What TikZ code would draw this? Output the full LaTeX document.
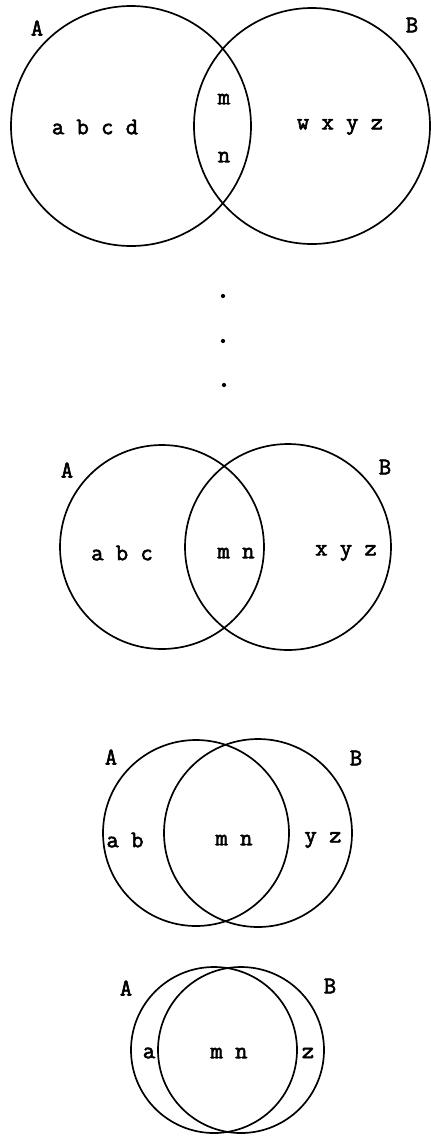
\documentclass[tikz,border=0pt]{standalone}
\usepackage{fontspec}
\setmonofont[AutoFakeBold=2.5]{Latin Modern Mono}
\usepackage{tikz}

\begin{document}
\begin{tikzpicture}[x=0.025cm, y=-0.025cm, line width=1.2pt,
    lbl/.style={font=\ttfamily\bfseries\fontsize{17}{19}\selectfont, inner sep=0pt}]
  \useasboundingbox (0,0) rectangle (430,1140);
  % first pair, well apart
  \draw (131,126) circle (120);
  \draw (312,126) circle (118);
  \node[lbl] (a1) at (37,28) {A};
  \node[lbl] (b1) at (412,25) {B};
  \node[lbl] (l1) at (95,127) {a b c d};
  \node[lbl] (m1) at (224,99) {m};
  \node[lbl] (n1) at (224,157) {n};
  \node[lbl] (r1) at (340,127) {w x y z};
  % dots
  \fill (223,296) circle (1.5pt);
  \fill (223,341) circle (1.5pt);
  \fill (224,385) circle (1.5pt);
  % second pair
  \draw (162,547) circle (102);
  \draw (288,547) circle (103);
  \node[lbl] (a2) at (67,470) {A};
  \node[lbl] (b2) at (385,467) {B};
  \node[lbl] (l2) at (122,553) {a b c};
  \node[lbl] (m2) at (236,553) {m n};
  \node[lbl] (r2) at (346,553) {x y z};
  % third pair
  \draw (196,833) circle (93);
  \draw (258,833) circle (94);
  \node[lbl] (a3) at (111,757) {A};
  \node[lbl] (b3) at (356,758) {B};
  \node[lbl] (l3) at (125,840) {a b};
  \node[lbl] (m3) at (234,840) {m n};
  \node[lbl] (r3) at (323,840) {y z};
  % fourth pair, almost one circle
  \draw (214,1050) circle (83);
  \draw (241,1050) circle (83);
  \node[lbl] (a4) at (126,988) {A};
  \node[lbl] (b4) at (330,986) {B};
  \node[lbl] (l4) at (149,1053) {a};
  \node[lbl] (m4) at (229,1053) {m n};
  \node[lbl] (r4) at (308,1053) {z};
\end{tikzpicture}
\end{document}
